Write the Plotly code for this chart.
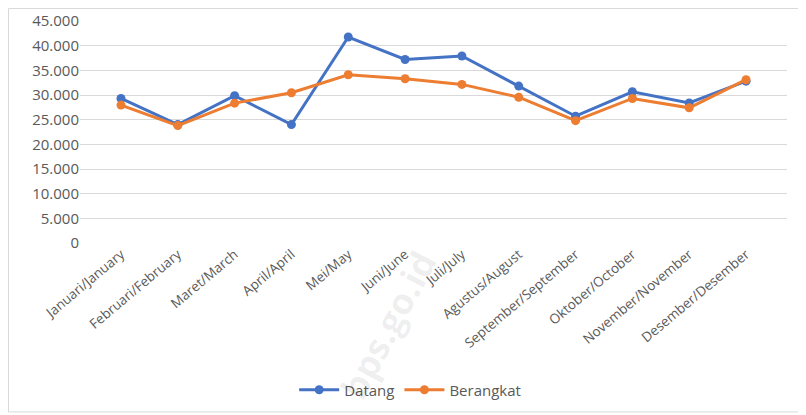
import plotly.graph_objects as go

# Bulan (kategori sumbu x)
bulan = ["Januari/January", "Februari/February", "Maret/March", "April/April",
         "Mei/May", "Juni/June", "Juli/July", "Agustus/August",
         "September/September", "Oktober/October", "November/November",
         "Desember/Desember"]

# nilai
datang = [29300, 24000, 29850, 24000, 41750, 37200, 37900, 31800,
          25700, 30650, 28400, 32800]
berangkat = [27950, 23800, 28350, 30450, 34100, 33300, 32150, 29550,
             24800, 29300, 27400, 33100]

y_ticks = [0, 5000, 10000, 15000, 20000, 25000, 30000, 35000, 40000, 45000]
y_labels = ["0", "5.000", "10.000", "15.000", "20.000", "25.000",
            "30.000", "35.000", "40.000", "45.000"]

fig = go.Figure()
fig.add_trace(go.Scatter(x=bulan, y=datang, mode="lines+markers", name="Datang",
                         line=dict(color="#4472C4", width=3),
                         marker=dict(color="#4472C4", size=9)))
fig.add_trace(go.Scatter(x=bulan, y=berangkat, mode="lines+markers", name="Berangkat",
                         line=dict(color="#ED7D31", width=3),
                         marker=dict(color="#ED7D31", size=9)))

# halaman punya margin 8px, jadi figur dibuat sedikit lebih kecil
fig.update_layout(
    width=798, height=407,
    margin=dict(l=72, r=19, t=13, b=172, autoexpand=False),
    paper_bgcolor="white", plot_bgcolor="white",
    font=dict(family="Open Sans", size=13, color="#595959"),
    showlegend=True,
    legend=dict(orientation="h", x=0.467, xanchor="center", y=-0.662, yanchor="middle",
                font=dict(size=15, color="#595959"), itemwidth=40),
)
fig.update_xaxes(tickangle=-40, showgrid=False, showline=False, ticks="",
                 tickfont=dict(size=13.5), automargin=False)
fig.update_yaxes(range=[0, 45000], tickvals=y_ticks, ticktext=y_labels,
                 gridcolor="#D9D9D9", gridwidth=1, zeroline=False, showline=False,
                 tickfont=dict(size=15), automargin=False)

# bingkai luar
fig.add_shape(type="rect", xref="paper", yref="paper",
              x0=-0.1011, x1=1.0212, y0=-0.761, y1=1.0563,
              line=dict(color="#D9D9D9", width=1))

# watermark
fig.add_annotation(text="<b>bps.go.id</b>", xref="paper", yref="paper", x=0.435, y=-0.37,
                   xanchor="center", yanchor="middle",
                   showarrow=False, textangle=-62,
                   font=dict(size=36, color="rgba(0,0,0,0.07)", family="Open Sans"))

fig.write_html("out.html")
